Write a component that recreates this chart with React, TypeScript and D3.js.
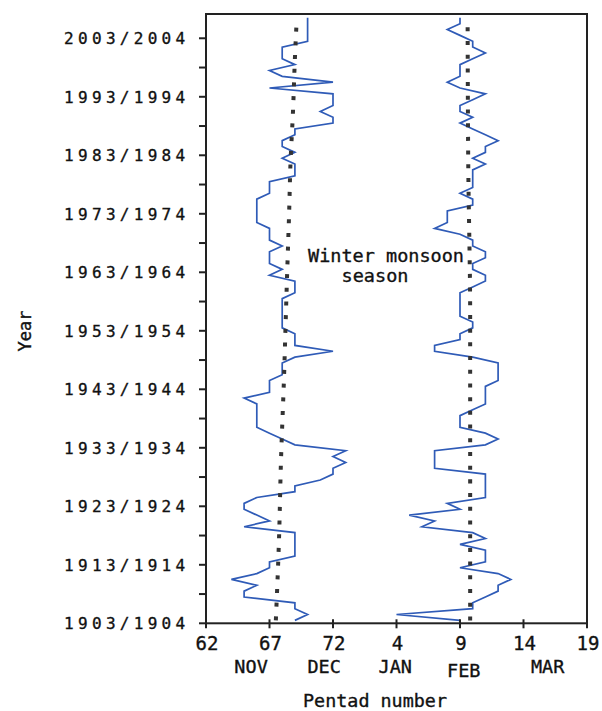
import React from 'react';
import * as d3 from 'd3';

const W = 602;
const H = 711;

const startYear = 1903;
// Onset pentad (Nov/Dec) per winter, 1903/1904 ... 2006/2007
const onset = [
  69, 70, 69, 69, 65, 65, 66, 64, 66, 67,
  67, 69, 69, 69, 69, 69, 65, 67, 66, 65,
  65, 66, 69, 69, 71, 72, 72, 73, 72, 73,
  69, 68, 67, 66, 66, 66, 66, 66, 65, 67,
  67, 67, 68, 68, 68, 69, 72, 69, 69, 69,
  68, 68, 68, 68, 68, 68, 69, 69, 69, 67,
  68, 67, 67, 67, 68, 67, 67, 67, 66, 66,
  66, 66, 66, 67, 67, 67, 69, 69, 69, 68,
  69, 68, 68, 69, 69, 72, 72, 71, 72, 72,
  72, 67, 72, 68, 67, 69, 68, 68, 68, 70,
  70, 70, 70, 70,
];
// Withdrawal pentad (Jan-Mar numbering) per winter
const withdrawal = [
  9, 4, 10, 10, 11, 12, 12, 13, 12, 9,
  11, 11, 11, 9, 11, 10, 6, 7, 5, 9,
  8, 11, 11, 11, 11, 11, 7, 7, 7, 7,
  11, 12, 11, 9, 9, 9, 10, 11, 11, 11,
  11, 12, 12, 12, 12, 10, 7, 7, 9, 9,
  10, 10, 9, 9, 9, 9, 9, 10, 11, 11,
  10, 10, 11, 11, 10, 10, 9, 7, 8, 8,
  8, 10, 10, 9, 10, 10, 10, 10, 11, 10,
  11, 11, 12, 11, 10, 9, 10, 9, 9, 10,
  11, 9, 8, 9, 9, 9, 10, 11, 10, 10,
  9, 8, 9, 9,
];

const onsetTrendYears = [1903, 1917, 1930, 1945, 1956, 1963, 1973, 1981, 1990, 1999, 2006];
const onsetTrend = [67.5, 67.75, 67.9, 68.15, 68.3, 68.4, 68.55, 68.65, 68.85, 69.0, 69.15];
const withdrawalTrendYears = [1903, 1930, 1955, 1981, 2006];
const withdrawalTrend = [9.8, 9.8, 9.8, 9.65, 9.6];

const xTicks = [62, 67, 72, 77, 82, 87, 92];
const xTickLabels = ['62', '67', '72', '4', '9', '14', '19'];
const months = ['NOV', 'DEC', 'JAN', 'FEB', 'MAR'];
const monthPentad = [65.55, 71.3, 76.9, 82.3, 88.9];
const majorYears = [1903, 1913, 1923, 1933, 1943, 1953, 1963, 1973, 1983, 1993, 2003];
const minorYears = [1908, 1918, 1928, 1938, 1948, 1958, 1968, 1978, 1988, 1998];

const PENTADS_PER_YEAR = 73;

export default function App() {
  const left = 206, right = 587, top = 14, bottom = 623.3;
  const x = d3.scaleLinear().domain([62, 92]).range([left, right]);
  const y = d3.scaleLinear().domain([1903, 2007.15]).range([bottom, top]);

  const onsetPts: [number, number][] = onset.map((v, i) => [x(v), y(startYear + i + 0.5)]);
  const wdPts: [number, number][] = withdrawal.map((v, i) => [x(v + PENTADS_PER_YEAR), y(startYear + i + 0.5)]);
  const line = d3.line();
  const trendLine = d3.line().curve(d3.curveMonotoneY);
  const onsetTrendPts: [number, number][] = onsetTrend.map((v, i) => [x(v), y(onsetTrendYears[i] + 0.5)]);
  const wdTrendPts: [number, number][] = withdrawalTrend.map((v, i) => [x(v + PENTADS_PER_YEAR), y(withdrawalTrendYears[i] + 0.5)]);

  const mono = '"DejaVu Sans Mono", monospace';
  const blue = '#2f5bb7';
  const txt = { fontFamily: mono, fill: '#111', stroke: '#111', strokeWidth: 0.35 } as const;

  return (
    <svg width={W} height={H} style={{ position: 'absolute', left: 0, top: 0, background: '#fff' }}>
      <rect x={0} y={0} width={W} height={H} fill="#fff" />
      {/* data lines */}
      <path d={line(onsetPts) || ''} fill="none" stroke={blue} strokeWidth={1.7} strokeLinejoin="miter" />
      <path d={line(wdPts) || ''} fill="none" stroke={blue} strokeWidth={1.7} strokeLinejoin="miter" />
      {/* trend dotted lines */}
      <path d={trendLine(onsetTrendPts) || ''} fill="none" stroke="#333" strokeWidth={4} strokeDasharray="4 9.7" />
      <path d={trendLine(wdTrendPts) || ''} fill="none" stroke="#333" strokeWidth={4} strokeDasharray="4 9.7" />

      {/* frame */}
      <rect x={left} y={top} width={right - left} height={bottom - top} fill="none" stroke="#222" strokeWidth={2} />

      {/* y ticks */}
      {majorYears.concat(minorYears).map((yr) => (
        <line key={'yt' + yr} x1={left - 7} x2={left} y1={y(yr)} y2={y(yr)} stroke="#222" strokeWidth={2} />
      ))}
      {majorYears.map((yr) => (
        <text key={'yl' + yr} x={189.5} y={y(yr)} dy="0.36em" textAnchor="end" {...txt}
          fontSize={16} letterSpacing={4.3}>{`${yr}/${yr + 1}`}</text>
      ))}

      {/* x ticks */}
      {xTicks.map((t, i) => (
        <g key={'xt' + t}>
          <line x1={x(t)} x2={x(t)} y1={bottom - 4} y2={bottom + 5} stroke="#222" strokeWidth={2} />
          <text x={x(t) + 1} y={650} textAnchor="middle" {...txt} fontSize={19}>{xTickLabels[i]}</text>
        </g>
      ))}
      {months.map((m, i) => (
        <text key={m} x={x(monthPentad[i])} y={m === 'FEB' ? 677 : 673} textAnchor="middle" {...txt}
          fontSize={18.5}>{m}</text>
      ))}

      {/* annotation */}
      <text x={386} y={262} textAnchor="middle" {...txt} fontSize={18.5}>Winter monsoon</text>
      <text x={375} y={282} textAnchor="middle" {...txt} fontSize={18.5}>season</text>

      {/* axis titles */}
      <text x={375} y={707} textAnchor="middle" {...txt} fontSize={18.4}>Pentad number</text>
      <text transform="translate(31,331) rotate(-90)" textAnchor="middle" {...txt} fontSize={17}>Year</text>
    </svg>
  );
}
